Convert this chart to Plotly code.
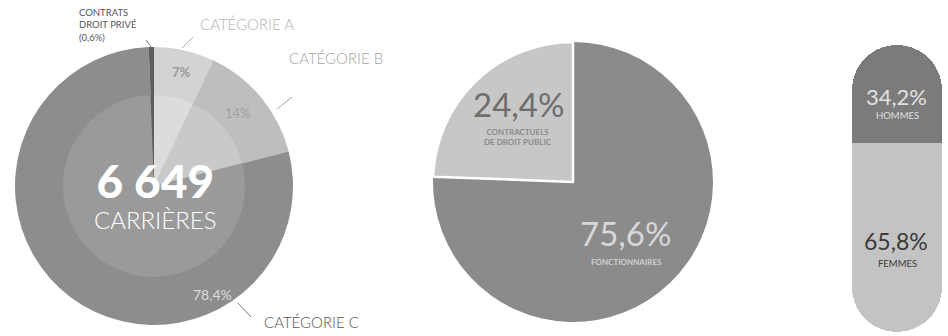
import plotly.graph_objects as go

W, H = 948, 336

# ---- data ----
cat_labels = ["CATÉGORIE A", "CATÉGORIE B", "CATÉGORIE C", "CONTRATS DROIT PRIVÉ"]
cat_values = [7.0, 14.0, 78.4, 0.6]
cat_colors = ["#d3d3d3", "#bebebe", "#8d8d8d", "#5c5c5c"]
cat_inner_colors = ["#dcdcdc", "#c9c9c9", "#9a9a9a", "#5c5c5c"]
total_careers = "6 649"

status_labels = ["FONCTIONNAIRES", "CONTRACTUELS DE DROIT PUBLIC"]
status_values = [75.6, 24.4]
status_colors = ["#8b8b8b", "#c7c7c7"]

gender_labels = ["HOMMES", "FEMMES"]
gender_values = [34.2, 65.8]
gender_colors = ["#7b7b7b", "#c3c3c3"]

FONT = "Lato"


def px(x):
    return x / W


def py(y):
    return 1 - y / H


fig = go.Figure()

# Pie 1: outer ring
fig.add_trace(go.Pie(
    labels=cat_labels, values=cat_values, sort=False, direction="clockwise",
    rotation=0, marker=dict(colors=cat_colors, line=dict(width=0)),
    textinfo="none", hoverinfo="label+percent", showlegend=False,
    domain=dict(x=[px(15), px(293)], y=[py(325), py(47)]),
))
# Pie 1: lighter inner disk (same data)
fig.add_trace(go.Pie(
    labels=cat_labels, values=cat_values, sort=False, direction="clockwise",
    rotation=0, marker=dict(colors=cat_inner_colors, line=dict(width=0)),
    textinfo="none", hoverinfo="skip", showlegend=False,
    domain=dict(x=[px(154 - 91), px(154 + 91)], y=[py(186 + 91), py(186 - 91)]),
))

# Pie 2
fig.add_trace(go.Pie(
    labels=status_labels, values=status_values, sort=False,
    direction="clockwise", rotation=0,
    marker=dict(colors=status_colors, line=dict(color="white", width=[0, 2.5])),
    textinfo="none", showlegend=False,
    domain=dict(x=[px(433), px(713)], y=[py(322), py(42)]),
))

# Pill (bar chart): hommes upward, femmes downward from the divider
fig.add_trace(go.Bar(
    x=[0], y=[gender_values[0]], marker=dict(color=gender_colors[0], cornerradius="50%", line=dict(width=0)),
    xaxis="x", yaxis="y", showlegend=False, name=gender_labels[0], width=1,
))
fig.add_trace(go.Bar(
    x=[0], y=[-gender_values[1]], marker=dict(color=gender_colors[1], cornerradius="50%", line=dict(width=0)),
    xaxis="x", yaxis="y", showlegend=False, name=gender_labels[1], width=1,
))

ann = []


def add(text, x, y, size, color, weight=400, xanchor="center", align="center"):
    ann.append(dict(text=text, x=px(x), y=py(y), xref="paper", yref="paper",
                    showarrow=False, xanchor=xanchor, yanchor="middle", align=align,
                    font=dict(family=FONT, size=size, color=color, weight=weight)))


# Pie 1 texts
add("CONTRATS<br>DROIT PRIVÉ<br>(0,6%)", 77, 25, 9.5, "#555555", 400, "left", "left")
add("CATÉGORIE A", 247, 24, 15, "#b3b3b3", 300)
add("CATÉGORIE B", 336, 58, 15, "#a3a3a3", 300)
add("CATÉGORIE C", 311, 322, 15, "#555555", 300)
add("7%", 181, 72, 13, "#9a9a9a", 700)
add("14%", 238, 113, 13, "#a0a0a0", 400)
add("78,4%", 212, 294, 14, "#dddddd", 400)
add("<span style='font-size:46px;font-weight:900'>" + total_careers + "</span><br>CARRIÈRES",
    155, 194, 24, "white", 300)

# Pie 2 texts
add("24,4%", 518, 104, 33, "#6d6d6d", 400)
add("CONTRACTUELS<br>DE DROIT PUBLIC", 518, 137, 8, "#8a8a8a", 700)
add("75,6%", 625, 233, 33, "#d8d8d8", 400)
add("FONCTIONNAIRES", 626, 262, 8, "#d0d0d0", 700)

# Pill texts
add("34,2%", 896, 97, 22, "#e2e2e2", 400)
add("HOMMES", 897, 115, 9.5, "#e0e0e0", 400)
add("65,8%", 896, 241, 23, "#3a3a3a", 400)
add("FEMMES", 897, 263, 9.5, "#3a3a3a", 400)

fig.update_layout(
    width=W, height=H, margin=dict(l=0, r=0, t=0, b=0),
    paper_bgcolor="white", plot_bgcolor="rgba(0,0,0,0)",
    barmode="overlay", bargap=0,
    xaxis=dict(domain=[px(852), px(942)], range=[-0.5, 0.5], visible=False, fixedrange=True),
    yaxis=dict(domain=[py(332), py(45)], range=[-gender_values[1], gender_values[0]],
               visible=False, fixedrange=True),
    annotations=ann,
    shapes=[
        dict(type="line", xref="paper", yref="paper", x0=px(193), y0=py(37), x1=px(182), y1=py(48),
             line=dict(color="#b3b3b3", width=1)),
        dict(type="line", xref="paper", yref="paper", x0=px(292), y0=py(97), x1=px(277), y1=py(109),
             line=dict(color="#a3a3a3", width=1)),
        dict(type="line", xref="paper", yref="paper", x0=px(238), y0=py(303), x1=px(251), y1=py(317),
             line=dict(color="#777777", width=1)),
        dict(type="line", xref="paper", yref="paper", x0=px(146), y0=py(40), x1=px(152), y1=py(48),
             line=dict(color="#777777", width=1)),
    ],
    font=dict(family=FONT),
)

fig.write_html("out.html")
